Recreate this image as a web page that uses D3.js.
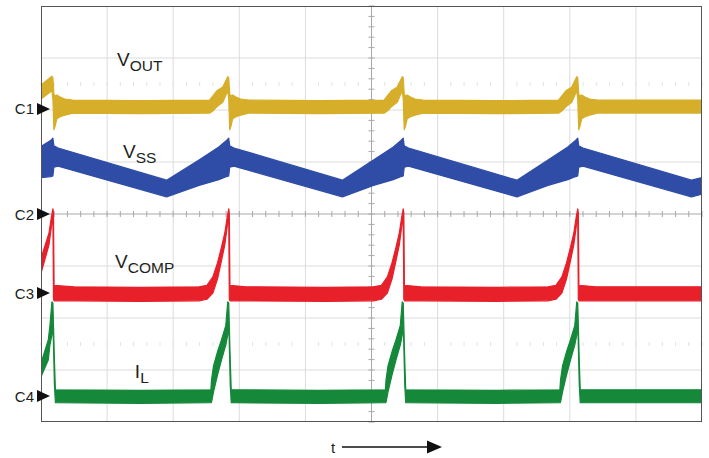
<!DOCTYPE html>
<html>
<head>
<meta charset="utf-8">
<script src="https://cdn.jsdelivr.net/npm/d3@7"></script>
<style>
  html, body { margin: 0; padding: 0; background: #fff; }
  svg { display: block; }
  text { font-family: "Liberation Sans", Arial, sans-serif; }
</style>
</head>
<body>
<svg id="chart" width="709" height="458"></svg>
<script>
// ---- Data (time in divisions, values in divisions relative to each channel's ground marker) ----
const channelNames = ["C1", "C2", "C3", "C4"];
const channelOffsets = [2.02, 0, -1.52, -3.5];

const timeDivisions = [0, 1, 2, 3, 4, 5, 6, 7, 8, 9, 10];
const voltDivisions = [-4, -3, -2, -1, 0, 1, 2, 3, 4];

// [t, low envelope, high envelope]
const voutEnvelope = [
  [0.00, 0.19, 0.46], [0.165, 0.35, 0.63], [0.18, 0.19, 0.60], [0.195, -0.40, 0.29],
  [0.21, -0.35, 0.25], [0.24, -0.19, 0.27], [0.29, -0.15, 0.23], [0.36, -0.12, 0.19],
  [0.48, -0.08, 0.17], [1.50, -0.09, 0.16],
  [2.55, -0.08, 0.17], [2.60, -0.04, 0.25], [2.66, 0.04, 0.35], [2.75, 0.13, 0.42],
  [2.825, 0.35, 0.62], [2.84, 0.19, 0.60], [2.855, -0.40, 0.29], [2.87, -0.35, 0.25],
  [2.90, -0.19, 0.27], [2.95, -0.15, 0.23], [3.02, -0.12, 0.19], [3.14, -0.08, 0.17],
  [4.20, -0.09, 0.16],
  [5.19, -0.08, 0.17], [5.24, -0.04, 0.25], [5.30, 0.04, 0.35], [5.39, 0.13, 0.42],
  [5.465, 0.35, 0.62], [5.48, 0.19, 0.60], [5.495, -0.40, 0.29], [5.51, -0.35, 0.25],
  [5.54, -0.19, 0.27], [5.59, -0.15, 0.23], [5.66, -0.12, 0.19], [5.78, -0.08, 0.17],
  [6.90, -0.09, 0.16],
  [7.83, -0.08, 0.17], [7.88, -0.04, 0.25], [7.94, 0.04, 0.35], [8.03, 0.13, 0.42],
  [8.105, 0.35, 0.62], [8.12, 0.19, 0.60], [8.135, -0.40, 0.29], [8.15, -0.35, 0.25],
  [8.18, -0.19, 0.27], [8.23, -0.15, 0.23], [8.30, -0.12, 0.19], [8.42, -0.08, 0.17],
  [10.0, -0.08, 0.17]
];

const vssEnvelope = [
  [0.00, 0.70, 1.30], [0.15, 0.72, 1.42], [0.18, 0.73, 1.46], [0.195, 0.90, 1.31],
  [0.26, 0.92, 1.27], [1.90, 0.33, 0.65],
  [2.39, 0.55, 1.04], [2.69, 0.66, 1.29], [2.81, 0.72, 1.42], [2.84, 0.73, 1.46],
  [2.855, 0.90, 1.31], [2.92, 0.92, 1.27], [4.56, 0.33, 0.65],
  [5.03, 0.55, 1.04], [5.33, 0.66, 1.29], [5.45, 0.72, 1.42], [5.48, 0.73, 1.46],
  [5.495, 0.90, 1.31], [5.56, 0.92, 1.27], [7.20, 0.33, 0.65],
  [7.67, 0.55, 1.04], [7.97, 0.66, 1.29], [8.09, 0.72, 1.42], [8.12, 0.73, 1.46],
  [8.135, 0.90, 1.31], [8.20, 0.92, 1.27], [9.84, 0.33, 0.65],
  [10.0, 0.38, 0.70]
];

const vcompEnvelope = [
  [0.00, 0.38, 0.67], [0.12, 0.92, 1.15], [0.157, 1.27, 1.46], [0.18, 1.50, 1.62],
  [0.189, -0.12, 1.54], [0.198, -0.15, 0.15], [0.50, -0.15, 0.12], [1.50, -0.16, 0.11],
  [2.39, -0.15, 0.12], [2.51, -0.12, 0.15], [2.60, 0.00, 0.31], [2.67, 0.27, 0.58],
  [2.73, 0.62, 0.88], [2.78, 0.92, 1.15], [2.817, 1.27, 1.46], [2.84, 1.50, 1.62],
  [2.849, -0.12, 1.54], [2.858, -0.15, 0.15], [3.10, -0.15, 0.12], [4.30, -0.16, 0.11],
  [5.03, -0.15, 0.12], [5.15, -0.12, 0.15], [5.24, 0.00, 0.31], [5.31, 0.27, 0.58],
  [5.37, 0.62, 0.88], [5.42, 0.92, 1.15], [5.457, 1.27, 1.46], [5.48, 1.50, 1.62],
  [5.489, -0.12, 1.54], [5.498, -0.15, 0.15], [5.75, -0.15, 0.12], [6.90, -0.16, 0.11],
  [7.67, -0.15, 0.12], [7.79, -0.12, 0.15], [7.88, 0.00, 0.31], [7.95, 0.27, 0.58],
  [8.01, 0.62, 0.88], [8.06, 0.92, 1.15], [8.097, 1.27, 1.46], [8.12, 1.50, 1.62],
  [8.129, -0.12, 1.54], [8.138, -0.15, 0.15], [8.40, -0.15, 0.12], [10.0, -0.15, 0.12]
];

const ilEnvelope = [
  [0.00, 0.37, 0.63], [0.11, 0.69, 1.08], [0.135, 0.98, 1.35], [0.165, 1.17, 1.81],
  [0.18, 1.46, 1.79], [0.203, 0.21, 0.69], [0.218, -0.13, 0.12], [1.50, -0.14, 0.11],
  [2.57, -0.13, 0.12], [2.58, -0.12, 0.31], [2.61, 0.08, 0.58], [2.67, 0.40, 0.85],
  [2.73, 0.69, 1.08], [2.795, 0.98, 1.35], [2.825, 1.17, 1.81], [2.84, 1.46, 1.79],
  [2.863, 0.21, 0.69], [2.878, -0.13, 0.12], [4.20, -0.14, 0.11],
  [5.21, -0.13, 0.12], [5.22, -0.12, 0.31], [5.25, 0.08, 0.58], [5.31, 0.40, 0.85],
  [5.37, 0.69, 1.08], [5.435, 0.98, 1.35], [5.465, 1.17, 1.81], [5.48, 1.46, 1.79],
  [5.503, 0.21, 0.69], [5.518, -0.13, 0.12], [6.90, -0.14, 0.11],
  [7.85, -0.13, 0.12], [7.86, -0.12, 0.31], [7.89, 0.08, 0.58], [7.95, 0.40, 0.85],
  [8.01, 0.69, 1.08], [8.075, 0.98, 1.35], [8.105, 1.17, 1.81], [8.12, 1.46, 1.79],
  [8.143, 0.21, 0.69], [8.158, -0.13, 0.12], [10.0, -0.13, 0.12]
];

const seriesMain = ["V", "V", "V", "I"];
const seriesSub = ["OUT", "SS", "COMP", "L"];
const axisLabel = "t";

// ---- Layout / style ----
const W = 709, H = 458;
const plot = { left: 41, top: 6, right: 702, bottom: 422 };
const colors = ["#d6ae2a", "#2f4da6", "#e8202a", "#15883a"];
const labelAnchors = [[1.15, 2.85], [1.24, 1.08], [1.12, -1.04], [1.42, -3.15]]; // t, v (div)

const svg = d3.select("#chart");
const x = d3.scaleLinear().domain([0, 10]).range([plot.left, plot.right]);
const y = d3.scaleLinear().domain([-4, 4]).range([plot.bottom, plot.top]);

svg.append("defs").append("clipPath").attr("id", "plotClip")
  .append("rect").attr("x", plot.left).attr("y", plot.top)
  .attr("width", plot.right - plot.left).attr("height", plot.bottom - plot.top);

// Grid
const grid = svg.append("g");
grid.selectAll("line.v").data(timeDivisions.filter(d => d > 0 && d < 10 && d !== 5)).join("line")
  .attr("x1", d => x(d)).attr("x2", d => x(d)).attr("y1", plot.top).attr("y2", plot.bottom)
  .attr("stroke", "#dcdcdc").attr("stroke-width", 1);
grid.selectAll("line.h").data(voltDivisions.filter(d => d > -4 && d < 4 && d !== 0)).join("line")
  .attr("x1", plot.left).attr("x2", plot.right).attr("y1", d => y(d)).attr("y2", d => y(d))
  .attr("stroke", "#dcdcdc").attr("stroke-width", 1);

// faint minor tick rows
const minorT = d3.range(0, 10.001, 0.2);
[2.5, -2.5].forEach(v => {
  grid.selectAll(null).data(minorT).join("line")
    .attr("x1", d => x(d)).attr("x2", d => x(d)).attr("y1", y(v) - 2).attr("y2", y(v) + 2)
    .attr("stroke", "#e2e2e2").attr("stroke-width", 1);
});

// center cross
grid.append("line").attr("x1", plot.left).attr("x2", plot.right).attr("y1", y(0)).attr("y2", y(0))
  .attr("stroke", "#a8a8a8").attr("stroke-width", 1);
grid.append("line").attr("x1", x(5)).attr("x2", x(5)).attr("y1", plot.top).attr("y2", plot.bottom)
  .attr("stroke", "#a8a8a8").attr("stroke-width", 1);
grid.selectAll(null).data(minorT).join("line")
  .attr("x1", d => x(d)).attr("x2", d => x(d)).attr("y1", y(0) - 3).attr("y2", y(0) + 3)
  .attr("stroke", "#a8a8a8").attr("stroke-width", 1);
grid.selectAll(null).data(d3.range(-4, 4.001, 0.2)).join("line")
  .attr("x1", x(5) - 3).attr("x2", x(5) + 3).attr("y1", d => y(d)).attr("y2", d => y(d))
  .attr("stroke", "#a8a8a8").attr("stroke-width", 1);

// Waveforms
const envelopes = [voutEnvelope, vssEnvelope, vcompEnvelope, ilEnvelope];
const wave = svg.append("g").attr("clip-path", "url(#plotClip)");
envelopes.forEach((env, i) => {
  const off = channelOffsets[i];
  const area = d3.area()
    .x(d => x(d[0]))
    .y0(d => y(off + d[1]))
    .y1(d => y(off + d[2]));
  wave.append("path").datum(env).attr("d", area)
    .attr("fill", colors[i]).attr("stroke", colors[i])
    .attr("stroke-width", 1.2).attr("stroke-linejoin", "round");
});

// Series labels
seriesMain.forEach((m, i) => {
  const [lt, lv] = labelAnchors[i];
  const t = svg.append("text").attr("x", x(lt)).attr("y", y(lv))
    .attr("fill", "#231f20").attr("font-size", 19);
  t.append("tspan").text(m);
  t.append("tspan").attr("font-size", 15.5).attr("dy", 5).text(seriesSub[i]);
});

// Frame
svg.append("rect").attr("x", plot.left + 0.5).attr("y", plot.top + 0.5)
  .attr("width", plot.right - plot.left - 1).attr("height", plot.bottom - plot.top - 1)
  .attr("fill", "none").attr("stroke", "#555").attr("stroke-width", 1);

// Channel markers
channelNames.forEach((c, i) => {
  const cy = y(channelOffsets[i]);
  svg.append("text").attr("x", 34).attr("y", cy).attr("text-anchor", "end")
    .attr("dominant-baseline", "central").attr("font-size", 15).attr("fill", "#231f20").text(c);
  svg.append("path")
    .attr("d", `M${37},${cy - 6}L${50},${cy}L${37},${cy + 6}Z`)
    .attr("fill", "#111");
});

// Time arrow
svg.append("text").attr("x", 333).attr("y", 453).attr("text-anchor", "middle")
  .attr("font-size", 15).attr("fill", "#231f20").text(axisLabel);
svg.append("line").attr("x1", 342).attr("x2", 428).attr("y1", 447).attr("y2", 447)
  .attr("stroke", "#111").attr("stroke-width", 1.3);
svg.append("path").attr("d", "M427,440.5L442,447L427,453.5Z").attr("fill", "#111");
</script>
</body>
</html>
